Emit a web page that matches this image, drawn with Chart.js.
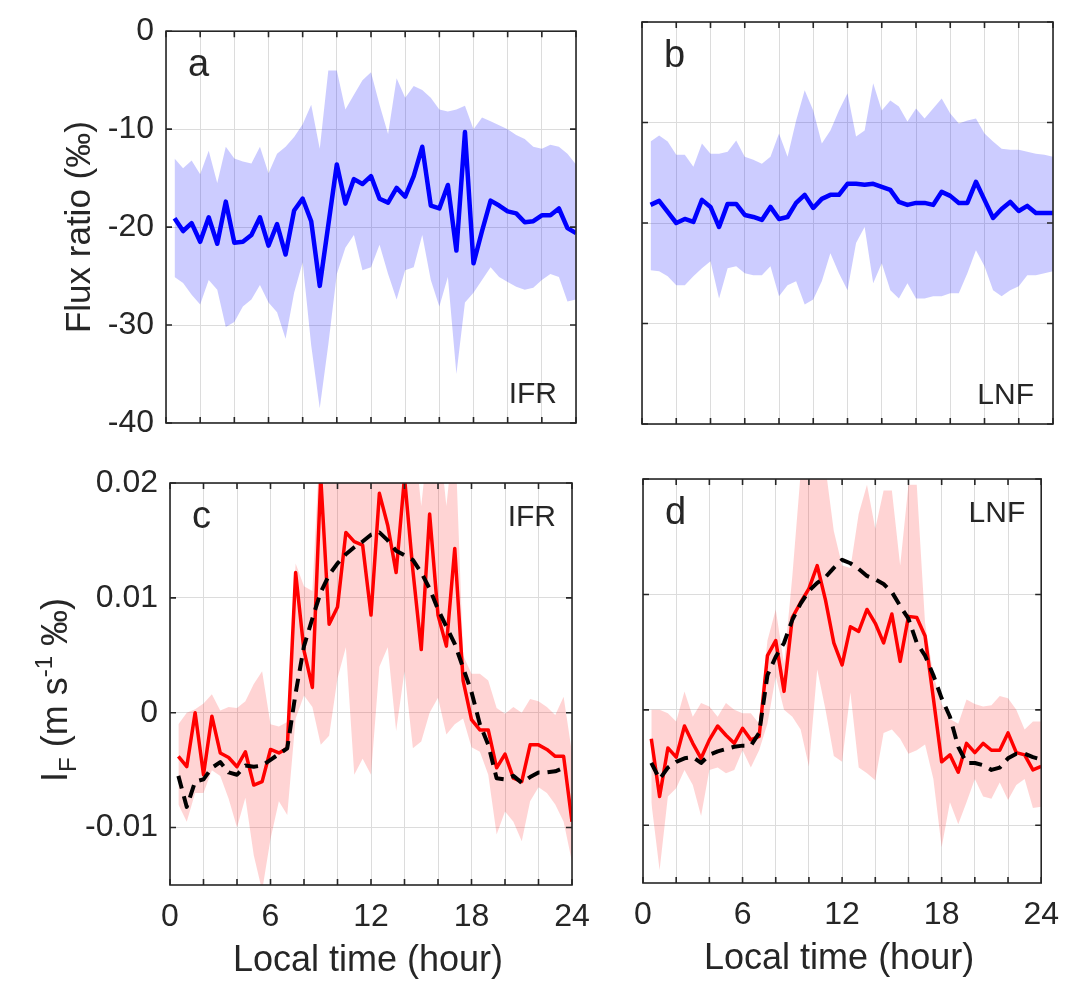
<!DOCTYPE html>
<html>
<head>
<meta charset="utf-8">
<title>Flux ratio and I_F, IFR / LNF</title>
<script src="https://cdn.jsdelivr.net/npm/chart.js@4.4.1/dist/chart.umd.min.js"></script>
<style>
  html, body { margin: 0; padding: 0; background: #fff; }
  #wrap { position: relative; width: 1072px; height: 987px; overflow: hidden; }
  #wrap canvas { position: absolute; left: 0; top: 0; }
</style>
</head>
<body>
<div id="wrap">
  <canvas id="panel-a" width="1072" height="987"></canvas>
  <canvas id="panel-b" width="1072" height="987"></canvas>
  <canvas id="panel-c" width="1072" height="987"></canvas>
  <canvas id="panel-d" width="1072" height="987"></canvas>
</div>
<script>
// local time of each half-hour sample
const hours = [0.5, 1, 1.5, 2, 2.5, 3, 3.5, 4, 4.5, 5, 5.5, 6, 6.5, 7, 7.5, 8, 8.5, 9, 9.5, 10, 10.5, 11, 11.5, 12,
  12.5, 13, 13.5, 14, 14.5, 15, 15.5, 16, 16.5, 17, 17.5, 18, 18.5, 19, 19.5, 20, 20.5, 21, 21.5, 22, 22.5, 23, 23.5, 24];

// axis ticks
const hourTicks = [0, 2, 4, 6, 8, 10, 12, 14, 16, 18, 20, 22, 24];
const hourLabels = [0, 6, 12, 18, 24];
const ratioTicks = [-40, -30, -20, -10, 0];
const fluxTicks = [-0.01, 0, 0.01, 0.02];

// a: flux ratio, IFR (mean and band)
const ifrRatio = [-19.1, -20.4, -19.6, -21.5, -19.0, -21.7, -17.4, -21.6, -21.5, -20.8, -19.0, -21.9, -19.7, -22.8, -18.3, -17.1,
  -19.4, -26.0, -19.8, -13.6, -17.6, -15.1, -15.6, -14.8, -17.1, -17.5, -16.0, -16.9, -14.8, -11.8, -17.8, -18.1,
  -15.7, -22.4, -10.3, -23.7, -20.4, -17.3, -17.8, -18.4, -18.6, -19.5, -19.4, -18.8, -18.8, -18.1, -20.1, -20.6];
const ifrRatioHi = [-13.0, -14.0, -13.2, -14.6, -12.2, -15.5, -11.8, -13.0, -13.3, -13.5, -11.8, -14.5, -12.5, -11.8, -10.8, -9.5,
  -7.5, -12.0, -4.0, -4.0, -8.0, -6.5, -5.0, -4.2, -7.5, -10.5, -4.8, -6.8, -5.6, -6.0, -6.8, -8.0,
  -8.2, -8.0, -7.6, -10.0, -8.8, -9.2, -9.6, -10.0, -10.6, -11.0, -11.8, -12.0, -11.6, -11.8, -12.5, -13.6];
const ifrRatioLo = [-25.1, -25.7, -26.9, -27.9, -25.4, -26.4, -30.2, -29.7, -28.1, -27.4, -25.9, -27.7, -28.7, -31.4, -26.7, -23.6,
  -32.1, -38.5, -32.0, -24.8, -22.1, -20.8, -24.4, -24.1, -21.8, -24.8, -27.4, -24.4, -24.1, -20.8, -25.4, -28.1,
  -25.1, -35.0, -27.7, -26.7, -25.4, -24.1, -25.1, -25.6, -26.1, -26.4, -26.2, -25.4, -24.8, -25.1, -27.6, -27.4];

// b: flux ratio, LNF
const lnfRatio = [-18.2, -17.8, -18.9, -20.0, -19.6, -19.9, -17.7, -18.4, -20.4, -18.1, -18.1, -19.2, -19.4, -19.7, -18.4, -19.6,
  -19.4, -18.0, -17.2, -18.5, -17.6, -17.2, -17.2, -16.1, -16.1, -16.2, -16.1, -16.4, -16.7, -17.9, -18.2, -18.0,
  -18.0, -18.2, -16.9, -17.3, -18.0, -18.0, -15.9, -17.7, -19.5, -18.6, -17.9, -18.8, -18.3, -19.0, -19.0, -19.0];
const lnfRatioHi = [-11.9, -11.3, -11.9, -13.2, -13.2, -14.4, -12.1, -13.1, -13.1, -12.9, -11.8, -13.4, -13.7, -14.1, -13.4, -11.1,
  -13.4, -9.8, -6.8, -8.8, -12.1, -10.8, -8.8, -7.1, -11.4, -10.8, -6.1, -8.8, -7.8, -8.4, -9.9, -8.6,
  -9.6, -8.6, -7.6, -9.1, -10.1, -9.8, -9.6, -11.1, -11.9, -12.6, -12.7, -12.7, -12.9, -13.1, -13.2, -13.4];
const lnfRatioLo = [-24.7, -24.8, -25.3, -26.2, -26.2, -25.3, -24.5, -23.8, -27.5, -24.5, -24.3, -25.0, -25.2, -25.2, -24.3, -27.3,
  -26.2, -25.8, -28.1, -27.6, -25.8, -23.0, -25.0, -26.7, -22.0, -20.4, -26.0, -24.0, -26.7, -27.5, -26.0, -27.5,
  -27.5, -27.3, -27.3, -27.0, -27.0, -25.0, -22.7, -24.3, -26.7, -27.3, -26.7, -26.3, -25.2, -25.2, -25.0, -24.8];

// c: I_F, IFR (red mean, band, dashed reference)
const ifrFlux = [-0.0038, -0.0047, 0.0000, -0.0054, -0.0003, -0.0035, -0.0039, -0.0047, -0.0034, -0.0063, -0.0060, -0.0032,
  -0.0035, -0.0031, 0.0122, 0.0054, 0.0022, 0.0205, 0.0077, 0.0092, 0.0157, 0.0149, 0.0146, 0.0085,
  0.0191, 0.0163, 0.0122, 0.0205, 0.0124, 0.0055, 0.0173, 0.0085, 0.0058, 0.0143, 0.0028, -0.0006,
  -0.0015, -0.0015, -0.0048, -0.0036, -0.0057, -0.0060, -0.0028, -0.0028, -0.0032, -0.0038, -0.0038, -0.0095];
const ifrFluxHi = [-0.0010, 0.0000, 0.0003, 0.0008, 0.0016, 0.0002, 0.0005, 0.0004, 0.0010, 0.0025, 0.0036, -0.0010,
  -0.0012, -0.0008, 0.0130, 0.0110, 0.0106, 0.0250, 0.0250, 0.0250, 0.0250, 0.0250, 0.0250, 0.0250,
  0.0250, 0.0250, 0.0250, 0.0250, 0.0250, 0.0180, 0.0250, 0.0250, 0.0180, 0.0250, 0.0050, 0.0034,
  0.0034, 0.0028, 0.0004, -0.0001, 0.0005, 0.0000, 0.0012, 0.0010, 0.0005, -0.0002, 0.0014, -0.0035];
const ifrFluxLo = [-0.0080, -0.0095, -0.0070, -0.0070, -0.0050, -0.0055, -0.0075, -0.0100, -0.0074, -0.0124, -0.0155, -0.0110,
  -0.0077, -0.0089, -0.0005, 0.0015, 0.0005, -0.0028, -0.0020, 0.0030, 0.0057, -0.0054, -0.0040, -0.0054,
  0.0040, 0.0057, -0.0016, 0.0036, -0.0031, -0.0025, 0.0000, 0.0013, -0.0019, -0.0010, -0.0005, -0.0030,
  -0.0034, -0.0054, -0.0106, -0.0086, -0.0095, -0.0112, -0.0077, -0.0065, -0.0070, -0.0080, -0.0095, -0.0130];
const ifrFluxRef = [-0.0055, -0.0082, -0.0060, -0.0058, -0.0048, -0.0043, -0.0052, -0.0054, -0.0046, -0.0047, -0.0046, -0.0041,
  -0.0036, -0.0031, 0.0017, 0.0058, 0.0082, 0.0105, 0.0120, 0.0130, 0.0138, 0.0144, 0.0149, 0.0155,
  0.0157, 0.0150, 0.0141, 0.0137, 0.0133, 0.0122, 0.0108, 0.0090, 0.0075, 0.0060, 0.0039, 0.0018,
  -0.0010, -0.0028, -0.0057, -0.0058, -0.0055, -0.0061, -0.0056, -0.0052, -0.0052, -0.0051, -0.0048, null];

// d: I_F, LNF
const lnfFlux = [-0.0025, -0.0075, -0.0033, -0.0041, -0.0014, -0.0029, -0.0042, -0.0026, -0.0014, -0.0022, -0.0029, -0.0016,
  -0.0026, -0.0023, 0.0047, 0.0060, 0.0016, 0.0080, 0.0093, 0.0105, 0.0125, 0.0095, 0.0058, 0.0039,
  0.0072, 0.0068, 0.0087, 0.0075, 0.0058, 0.0083, 0.0042, 0.0081, 0.0080, 0.0064, 0.0010, -0.0045,
  -0.0039, -0.0054, -0.0029, -0.0037, -0.0029, -0.0035, -0.0035, -0.0020, -0.0037, -0.0039, -0.0052, -0.0049];
const lnfFluxHi = [0.0000, 0.0000, -0.0003, -0.0010, 0.0016, -0.0006, 0.0006, 0.0003, -0.0006, 0.0006, 0.0000, -0.0003,
  -0.0003, -0.0012, 0.0060, 0.0087, 0.0040, 0.0116, 0.0205, 0.0220, 0.0220, 0.0210, 0.0155, 0.0125,
  0.0123, 0.0170, 0.0195, 0.0157, 0.0190, 0.0190, 0.0125, 0.0195, 0.0195, 0.0075, 0.0030, 0.0005,
  -0.0008, -0.0012, 0.0009, 0.0005, 0.0003, 0.0004, 0.0012, 0.0010, 0.0000, -0.0017, -0.0010, -0.0010];
const lnfFluxLo = [-0.0080, -0.0139, -0.0075, -0.0068, -0.0052, -0.0065, -0.0092, -0.0052, -0.0050, -0.0055, -0.0052, -0.0035,
  -0.0050, -0.0035, -0.0012, 0.0029, 0.0000, -0.0006, -0.0017, -0.0049, 0.0035, 0.0000, -0.0040, -0.0045,
  0.0015, -0.0050, -0.0055, -0.0061, -0.0020, -0.0017, -0.0025, -0.0038, -0.0035, -0.0030, -0.0060, -0.0119,
  -0.0080, -0.0099, -0.0080, -0.0060, -0.0075, -0.0077, -0.0063, -0.0078, -0.0065, -0.0060, -0.0085, -0.0084];
const lnfFluxRef = [-0.0046, -0.0060, -0.0050, -0.0045, -0.0042, -0.0041, -0.0046, -0.0039, -0.0036, -0.0034, -0.0032, -0.0031,
  -0.0031, -0.0020, 0.0030, 0.0046, 0.0058, 0.0078, 0.0092, 0.0103, 0.0110, 0.0115, 0.0123, 0.0130,
  0.0127, 0.0122, 0.0116, 0.0113, 0.0109, 0.0102, 0.0090, 0.0079, 0.0058, 0.0047, 0.0030, 0.0010,
  -0.0006, -0.0032, -0.0046, -0.0046, -0.0048, -0.0052, -0.0050, -0.0042, -0.0038, -0.0038, -0.0041, -0.0043];

const FONT = '"Liberation Sans", Arial, Helvetica, sans-serif';
const INK = '#262626';
const GRID = '#dcdcdc';
const W = 1072, H = 987;
const Y_BOX = 100, X_BOX = 60;   // fixed axis box sizes, so the plot area lands where we want it

Chart.defaults.font.family = FONT;
Chart.defaults.color = INK;

const pts = (xs, ys) => xs.map((x, i) => ({ x: x, y: ys[i] }));

// box round the plot with inward ticks, like matlab
const framePlugin = {
  id: 'frame',
  afterDatasetsDraw(chart) {
    const { ctx, chartArea: a, scales } = chart;
    ctx.save();
    ctx.strokeStyle = INK;
    ctx.lineWidth = 1.6;
    ctx.strokeRect(a.left, a.top, a.right - a.left, a.bottom - a.top);
    ctx.beginPath();
    scales.x.ticks.forEach(t => {
      const px = scales.x.getPixelForValue(t.value);
      ctx.moveTo(px, a.bottom); ctx.lineTo(px, a.bottom - 6);
      ctx.moveTo(px, a.top); ctx.lineTo(px, a.top + 6);
    });
    scales.y.ticks.forEach(t => {
      const py = scales.y.getPixelForValue(t.value);
      ctx.moveTo(a.left, py); ctx.lineTo(a.left + 6, py);
      ctx.moveTo(a.right, py); ctx.lineTo(a.right - 6, py);
    });
    ctx.stroke();
    ctx.restore();
  }
};

function drawIfLabel(ctx, baseX, cy) {
  const big = '36px ' + FONT, small = '24px ' + FONT;
  const parts = [['I', big, 0], ['F', small, 9], [' (m s', big, 0], ['-1', small, -15], [' \u2030)', big, 0]];
  ctx.save();
  ctx.translate(baseX, cy);
  ctx.rotate(-Math.PI / 2);
  ctx.fillStyle = INK;
  ctx.textAlign = 'left';
  ctx.textBaseline = 'alphabetic';
  let total = 0;
  parts.forEach(p => { ctx.font = p[1]; p.w = ctx.measureText(p[0]).width; total += p.w; });
  let x = -total / 2;
  parts.forEach(p => { ctx.font = p[1]; ctx.fillText(p[0], x, p[2]); x += p.w; });
  ctx.restore();
}

function drawTexts(chart, p) {
  const { ctx, chartArea: a } = chart;
  ctx.save();
  ctx.fillStyle = INK;
  ctx.textBaseline = 'alphabetic';
  // panel letter
  ctx.font = '38px ' + FONT;
  ctx.textAlign = 'left';
  ctx.fillText(p.letter, a.left + 22, a.top + 45);
  // site name
  ctx.font = '30px ' + FONT;
  ctx.textAlign = 'right';
  if (p.siteAtTop) ctx.fillText(p.site, a.right - 16, a.top + 43);
  else ctx.fillText(p.site, a.right - 19, a.bottom - 20);
  // x title
  if (p.xTitle) {
    ctx.font = '36px ' + FONT;
    ctx.textAlign = 'center';
    ctx.fillText(p.xTitle, (a.left + a.right) / 2 - 3, a.bottom + 86);
  }
  // y title
  if (p.yTitle === 'ratio') {
    ctx.save();
    ctx.translate(a.left - 76, (a.top + a.bottom) / 2);
    ctx.rotate(-Math.PI / 2);
    ctx.font = '35px ' + FONT;
    ctx.textAlign = 'center';
    ctx.fillText('Flux ratio (\u2030)', 0, 0);
    ctx.restore();
  } else if (p.yTitle === 'flux') {
    drawIfLabel(ctx, a.left - 103, (a.top + a.bottom) / 2 + 6);
  }
  ctx.restore();
}

function makePanel(p) {
  const datasets = [];
  p.lines.forEach(l => datasets.push({
    data: pts(hours, l.values),
    borderColor: l.color,
    borderWidth: l.width,
    borderDash: l.dash || [],
    borderJoinStyle: 'round',
    pointRadius: 0,
    fill: false,
    tension: 0,
    order: 0
  }));
  datasets.push({
    data: pts(hours, p.hi),
    borderWidth: 0,
    pointRadius: 0,
    backgroundColor: p.band,
    fill: '+1',
    tension: 0,
    order: 2
  });
  datasets.push({
    data: pts(hours, p.lo),
    borderWidth: 0,
    pointRadius: 0,
    fill: false,
    tension: 0,
    order: 3
  });

  const a = p.area;
  new Chart(document.getElementById(p.canvas), {
    type: 'line',
    data: { datasets: datasets },
    options: {
      responsive: false,
      animation: false,
      events: [],
      layout: {
        padding: { left: a.left - Y_BOX, top: a.top, right: W - a.right, bottom: H - a.bottom - X_BOX }
      },
      plugins: { legend: { display: false }, tooltip: { enabled: false } },
      scales: {
        x: {
          type: 'linear', min: 0, max: 24,
          afterBuildTicks: s => { s.ticks = hourTicks.map(v => ({ value: v })); },
          afterFit: s => { s.height = X_BOX; },
          ticks: {
            display: p.showX, autoSkip: false, maxRotation: 0, minRotation: 0, padding: 13,
            font: { size: 32 },
            callback: v => hourLabels.includes(v) ? String(v) : ''
          },
          grid: { color: GRID, lineWidth: 1, drawTicks: false },
          border: { display: false }
        },
        y: {
          type: 'linear', min: p.yMin, max: p.yMax,
          afterBuildTicks: s => { s.ticks = p.yTicks.map(v => ({ value: v })); },
          afterFit: s => { s.width = Y_BOX; },
          ticks: { display: p.showY, padding: 12, font: { size: 32 }, callback: v => String(v) },
          grid: { color: GRID, lineWidth: 1, drawTicks: false },
          border: { display: false }
        }
      }
    },
    plugins: [framePlugin, { id: 'texts', afterDraw: chart => drawTexts(chart, p) }]
  });
}

const BLUE_BAND = 'rgba(0, 0, 255, 0.2)';
const RED_BAND = 'rgba(255, 0, 0, 0.17)';

makePanel({
  canvas: 'panel-a', area: { left: 166, top: 22, right: 576, bottom: 423 },
  letter: 'a', site: 'IFR', siteAtTop: false, yTitle: 'ratio', showY: true, showX: false,
  yMin: -40, yMax: 0, yTicks: ratioTicks,
  hi: ifrRatioHi, lo: ifrRatioLo, band: BLUE_BAND,
  lines: [{ values: ifrRatio, color: '#0000ff', width: 4.5 }]
});
makePanel({
  canvas: 'panel-b', area: { left: 642, top: 22, right: 1053, bottom: 424 },
  letter: 'b', site: 'LNF', siteAtTop: false, showY: false, showX: false,
  yMin: -40, yMax: 0, yTicks: ratioTicks,
  hi: lnfRatioHi, lo: lnfRatioLo, band: BLUE_BAND,
  lines: [{ values: lnfRatio, color: '#0000ff', width: 4.5 }]
});
makePanel({
  canvas: 'panel-c', area: { left: 170, top: 483, right: 572, bottom: 885 },
  letter: 'c', site: 'IFR', siteAtTop: true, yTitle: 'flux', xTitle: 'Local time (hour)', showY: true, showX: true,
  yMin: -0.015, yMax: 0.02, yTicks: fluxTicks,
  hi: ifrFluxHi, lo: ifrFluxLo, band: RED_BAND,
  lines: [
    { values: ifrFluxRef, color: '#000000', width: 4, dash: [13, 8] },
    { values: ifrFlux, color: '#ff0000', width: 3.5 }
  ]
});
makePanel({
  canvas: 'panel-d', area: { left: 643, top: 479, right: 1046, bottom: 883 },
  letter: 'd', site: 'LNF', siteAtTop: true, xTitle: 'Local time (hour)', showY: false, showX: true,
  yMin: -0.015, yMax: 0.02, yTicks: fluxTicks,
  hi: lnfFluxHi, lo: lnfFluxLo, band: RED_BAND,
  lines: [
    { values: lnfFluxRef, color: '#000000', width: 4, dash: [13, 8] },
    { values: lnfFlux, color: '#ff0000', width: 3.5 }
  ]
});
</script>
</body>
</html>
